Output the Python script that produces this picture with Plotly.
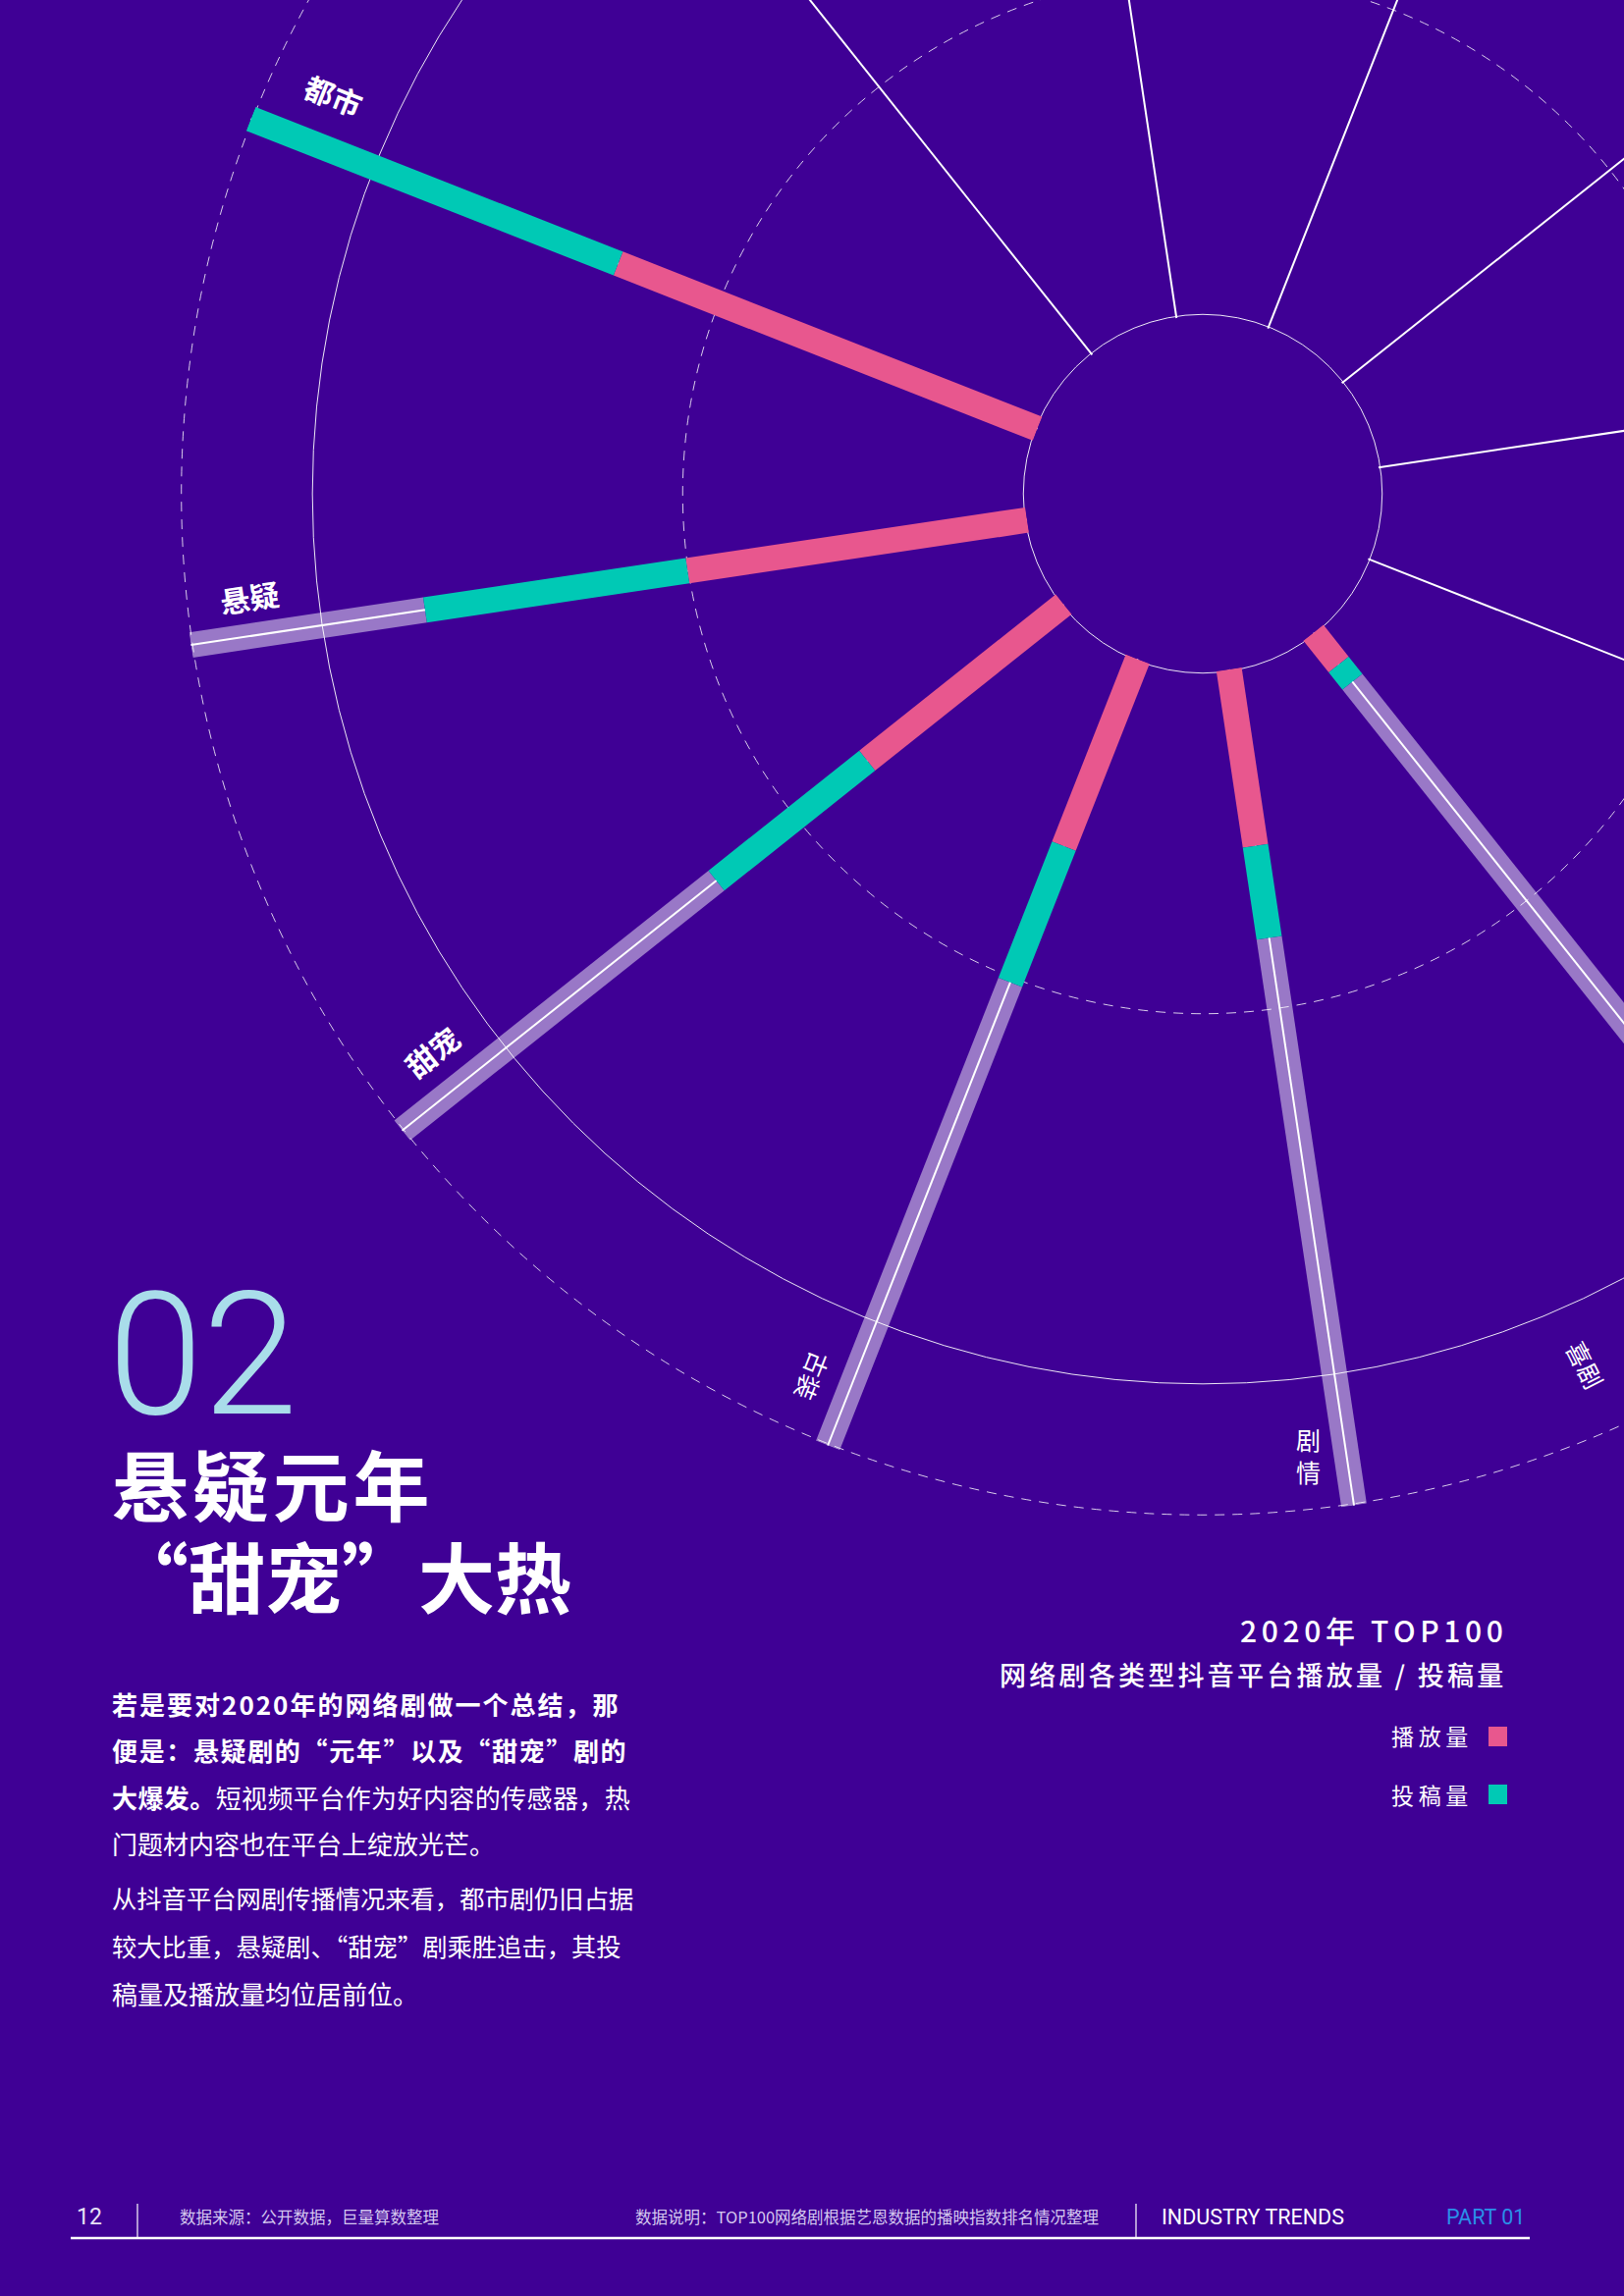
import plotly.graph_objects as go

# page / figure geometry (figure is taller and wider than the page, shifted up by SHIFT)
W, H = 2300, 2878
SHIFT = 539
BG = "#3F0095"
PINK = "#E8578E"
TEAL = "#00C9B5"
LAV = "rgba(255,255,255,0.47)"
CJK = "Noto Sans CJK SC"

# data (length of each segment, full scale = 100)
genres = ["都市", "悬疑", "甜宠", "古装", "剧情", "喜剧"]
play = [53.3, 40.6, 29.7, 23.8, 21.1, 4.8]     # 播放量
post = [46.7, 31.4, 22.8, 17.3, 11.0, 2.6]     # 投稿量
full_scale = 100
n_slots = 12
ring_dashed = [40.5, 99.8]
ring_solid = [0.2, 84.3]


def segs(starts, ends):
    r, th = [], []
    for g, a, b in zip(genres, starts, ends):
        r += [a, b, None]
        th += [g, g, None]
    return r, th


stack = [p + q for p, q in zip(play, post)]
r_pink, t_pink = segs([0] * len(genres), play)
r_teal, t_teal = segs(play, stack)
r_lav, t_lav = segs(stack, [full_scale] * len(genres))

fig = go.Figure()
fig.add_trace(go.Scatterpolar(r=r_lav, theta=t_lav, mode="lines", subplot="polar",
                              line=dict(color=LAV, width=26), hoverinfo="skip", name="total"))
fig.add_trace(go.Scatterpolar(r=r_pink, theta=t_pink, mode="lines", subplot="polar2",
                              line=dict(color=PINK, width=26), name="播放量"))
fig.add_trace(go.Scatterpolar(r=r_teal, theta=t_teal, mode="lines", subplot="polar2",
                              line=dict(color=TEAL, width=26), name="投稿量"))


def px(x):
    return x / W


def py(y):
    return 1 - (y + SHIFT) / H


dom = dict(x=[px(183), px(2267)], y=[py(503 + 1042), 1])
ang = dict(type="category", categoryarray=genres, period=n_slots, rotation=158.5,
           direction="counterclockwise", showticklabels=False, ticks="", showline=False,
           tickmode="array", tickvals=list(range(n_slots)))

fig.update_layout(
    width=W, height=H, autosize=False,
    margin=dict(l=0, r=0, t=0, b=0),
    paper_bgcolor=BG, plot_bgcolor=BG,
    showlegend=False,
    polar=dict(domain=dom, hole=181 / 1042, bgcolor="rgba(0,0,0,0)",
               angularaxis=dict(ang, showgrid=True, gridcolor="white", gridwidth=1.6),
               radialaxis=dict(range=[0, full_scale], tickvals=ring_solid, showticklabels=False,
                               ticks="", showline=False, gridcolor="rgba(255,255,255,0.9)",
                               gridwidth=1.3)),
    polar2=dict(domain=dom, hole=181 / 1042, bgcolor="rgba(0,0,0,0)",
                angularaxis=dict(ang, showgrid=False),
                radialaxis=dict(range=[0, full_scale], tickvals=ring_dashed, showticklabels=False,
                                ticks="", showline=False, gridcolor="rgba(255,255,255,0.8)",
                                gridwidth=1.2, griddash="10px,8px")),
)


def note(text, x, y, size, color="white", xanchor="left", weight="normal", family=CJK, angle=0):
    fig.add_annotation(text=text, x=px(x), y=py(y), xref="paper", yref="paper",
                       xanchor=xanchor, yanchor="middle", showarrow=False, textangle=angle,
                       font=dict(size=size, color=color, family=family, weight=weight))


def gap(w):
    # a thin space sized so that it is about w pixels wide
    return '<span style="font-size:%.1fpx">\u2009</span>' % (w / 0.26)


def spaced(s, w):
    return gap(w).join(s) if w > 0 else s


# category labels along the bars
note("都市", 340, 97, 30, xanchor="center", weight="bold", angle=21.5)
note("悬疑", 254, 608, 30, xanchor="center", weight="bold", angle=-8.5)
note("甜宠", 440, 1071, 30, xanchor="center", weight="bold", angle=-38.5)
note("古装", 828, 1402, 25, xanchor="center", angle=111.5)
note("剧<br>情", 1332, 1482, 25, xanchor="center")
note("喜剧", 1615, 1390, 25, xanchor="center", angle=63)

# big heading
note("02", 108, 1380, 174, color="#A9DDEA", family="Roboto", weight=300)
note(spaced("悬疑元年", 5), 112, 1510, 78, weight="bold")
note("“甜宠”大热", 112, 1604, 78, weight="bold")

# body text (justified lines get a little extra letter spacing)
body = [
    ("若是要对2020年的网络剧做一个总结，那", "", 1735, 26, 2.6),
    ("便是：悬疑剧的“元年”以及“甜宠”剧的", "", 1782, 26, 2.1),
    ("大爆发。", "短视频平台作为好内容的传感器，热", 1830, 26, 0.5),
    ("", "门题材内容也在平台上绽放光芒。", 1877, 26, 0),
    ("", "从抖音平台网剧传播情况来看，都市剧仍旧占据", 1933, 25.3, 0),
    ("", "较大比重，悬疑剧、“甜宠”剧乘胜追击，其投", 1982, 25.3, 0),
    ("", "稿量及播放量均位居前位。", 2030, 26, 0),
]
for bold, plain, y, size, w in body:
    parts = []
    if bold:
        parts.append("<b>" + spaced(bold, w) + "</b>")
    if plain:
        parts.append(spaced(plain, w))
    note(gap(w).join(parts) if w > 0 else "".join(parts), 112, y, size)

# chart title and legend (right side)
note(spaced("2020年 TOP100", 6), 1533, 1660, 30, xanchor="right", weight=500)
note(spaced("网络剧各类型抖音平台播放量 / 投稿量", 4.2), 1533, 1705, 27, xanchor="right", weight=500)
note(spaced("播放量", 6), 1497, 1768, 23, xanchor="right")
note(spaced("投稿量", 6), 1497, 1828, 23, xanchor="right")
fig.add_shape(type="rect", xref="paper", yref="paper", x0=px(1516), x1=px(1535),
              y0=py(1779), y1=py(1759), fillcolor=PINK, line_width=0)
fig.add_shape(type="rect", xref="paper", yref="paper", x0=px(1516), x1=px(1535),
              y0=py(1838), y1=py(1818), fillcolor=TEAL, line_width=0)

# footer
NARROW = "Liberation Sans Narrow, Roboto, sans-serif"
note("12", 76, 2258, 23, color="#E8E2F5", family=NARROW)
note("数据来源：公开数据，巨量算数整理", 181, 2258, 16.5, color="#D5C9EF")
note("数据说明：TOP100网络剧根据艺恩数据的播映指数排名情况整理", 645, 2258, 16.5, color="#D5C9EF")
note("INDUSTRY TRENDS", 1181, 2258, 21.5, family=NARROW)
note("PART 01", 1471, 2258, 21.5, color="#2A8FE8", family=NARROW)
fig.add_shape(type="line", xref="paper", yref="paper", x0=px(72), x1=px(1558),
              y0=py(2280), y1=py(2280), line=dict(color="white", width=2.5))
for xs in (140, 1157):
    fig.add_shape(type="line", xref="paper", yref="paper", x0=px(xs), x1=px(xs),
                  y0=py(2245), y1=py(2279), line=dict(color="white", width=1.2))

post_js = (
    "document.documentElement.style.background='" + BG + "';"
    "document.documentElement.style.overflow='hidden';"
    "document.body.style.margin='0';document.body.style.overflow='hidden';"
    "document.body.style.background='" + BG + "';"
    "document.getElementById('{plot_id}').style.marginTop='-" + str(SHIFT) + "px';"
)
fig.write_html("out.html", post_script=post_js)
